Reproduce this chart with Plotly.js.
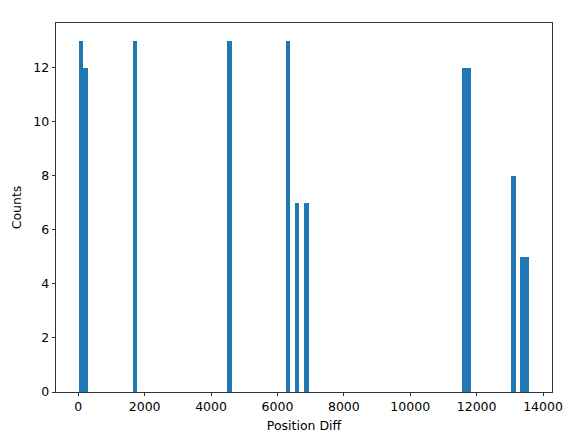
<!DOCTYPE html>
<html>
<head>
<meta charset="utf-8">
<script src="https://cdn.plot.ly/plotly-3.0.1.min.js"></script>
<style>html,body{margin:0;padding:0;background:#fff;}#chart{width:576px;height:441px;}</style>
</head>
<body>
<div id="chart"></div>
<script>
// Histogram bins (left edges) with nonzero counts
const binWidth = 135.84;
const binLeft = [8, 143.84, 1638.08, 4490.72, 6256.64, 6528.32, 6800, 11554.4, 11690.24, 13048.64, 13320.32, 13456.16];
const counts  = [13, 12, 13, 13, 13, 7, 7, 12, 12, 8, 5, 5];
const xTicks = [0, 2000, 4000, 6000, 8000, 10000, 12000, 14000];
const yTicks = [0, 2, 4, 6, 8, 10, 12];

const font = {family: 'DejaVu Sans', size: 12.5, color: '#000'};

Plotly.newPlot('chart', [{
  type: 'bar',
  x: binLeft,
  y: counts,
  width: binLeft.map(() => binWidth),
  offset: 0,
  marker: {color: '#1f77b4', line: {width: 0}},
  hoverinfo: 'x+y'
}], {
  width: 576, height: 441,
  margin: {l: 56, r: 24, t: 23, b: 49, pad: 0},
  paper_bgcolor: '#fff', plot_bgcolor: '#fff',
  bargap: 0,
  showlegend: false,
  font: font,
  xaxis: {
    range: [-671, 14271],
    tickvals: xTicks, ticktext: xTicks.map(String),
    ticks: 'outside', ticklen: 3.5, tickwidth: 0.8, tickcolor: '#000',
    showline: true, linecolor: '#000', linewidth: 0.8, mirror: true,
    showgrid: false, zeroline: false,
    tickfont: font,
    title: {text: 'Position Diff', font: font, standoff: 7}
  },
  yaxis: {
    range: [0, 13.65],
    tickvals: yTicks, ticktext: yTicks.map(String),
    ticks: 'outside', ticklen: 3.5, tickwidth: 0.8, tickcolor: '#000',
    showline: true, linecolor: '#000', linewidth: 0.8, mirror: true,
    showgrid: false, zeroline: false,
    tickfont: font,
    title: {text: 'Counts', font: font, standoff: 8}
  }
}, {displayModeBar: false, staticPlot: true});
</script>
</body>
</html>
